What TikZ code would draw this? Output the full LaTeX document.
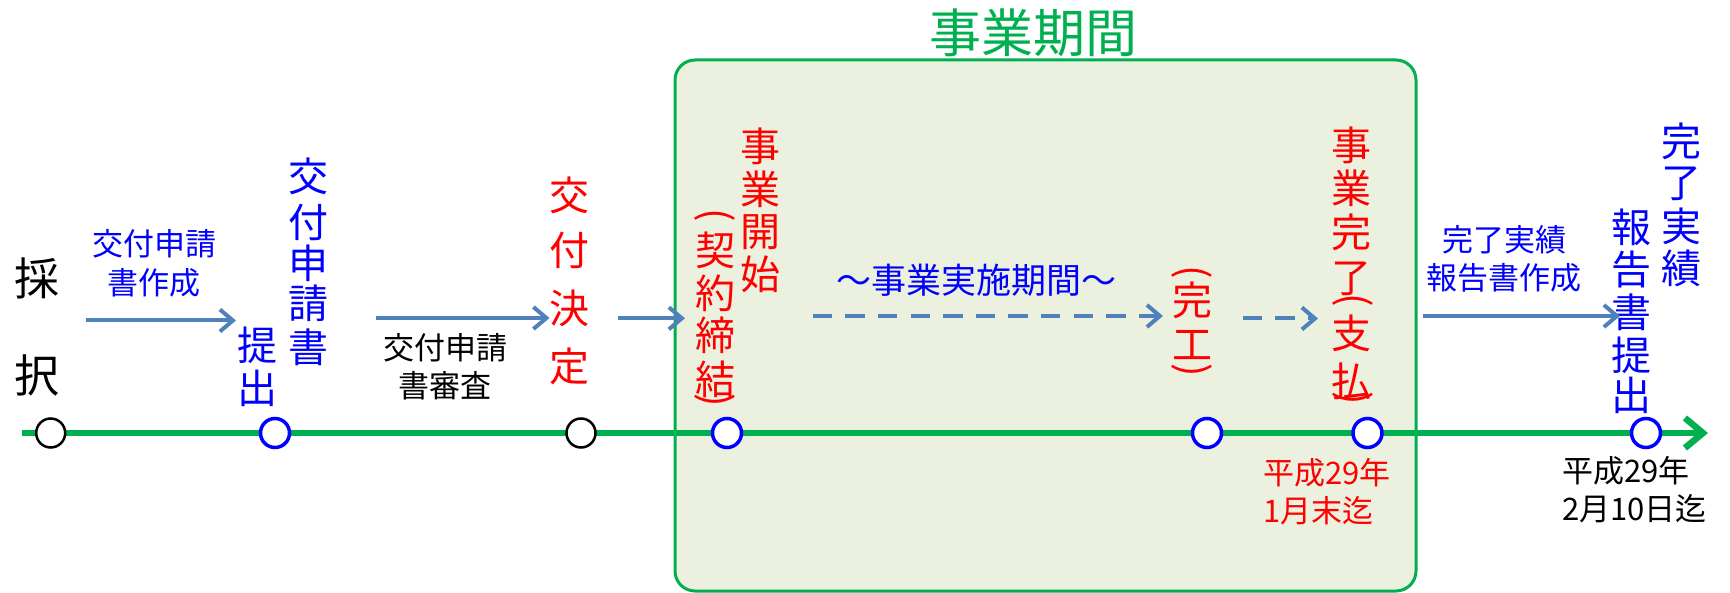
\documentclass[tikz,border=0pt]{standalone}
\usepackage{fontspec}
\setmainfont{Noto Sans CJK JP}
\usetikzlibrary{arrows.meta}
\definecolor{tlgreen}{HTML}{00B050}
\definecolor{arrblue}{HTML}{4F81BD}
\definecolor{boxfill}{HTML}{EBF1DE}
\definecolor{txtblue}{HTML}{0000FF}
\definecolor{txtred}{HTML}{FF0000}
\newcommand\vcolumn[4]{%
  \foreach \yy/\cc [count=\i] in {#4} {\node[ch, text=#3] (#1-\i) at (#2,\yy) {\cc};}%
}
\begin{document}
\begin{tikzpicture}[x=1pt,y=-1pt,
  ch/.style={inner sep=0pt, outer sep=0pt, font=\fontsize{40}{40}\selectfont, anchor=center},
  vparen/.style={ch, rotate=-90, text=txtred},
  lbl/.style={inner sep=0pt, outer sep=0pt, align=center, font=\fontsize{31}{38.5}\selectfont},
  datelbl/.style={inner sep=0pt, outer sep=0pt, align=left, anchor=west, font=\fontsize{31}{38}\selectfont},
  flow/.style={arrblue, line width=4pt, -{Straight Barb[length=13pt,width=22pt]}},
  dashflow/.style={flow, dash pattern=on 19.3pt off 13.3pt},
  milestone/.style={circle, draw, fill=white, minimum size=29pt, inner sep=0pt, line width=2.5pt},
  bluestone/.style={milestone, draw=txtblue, line width=3.5pt}
]
\useasboundingbox (0,0) rectangle (1730,593);

% period box
\node[draw=tlgreen, fill=boxfill, line width=3pt, rounded corners=20pt,
      minimum width=741pt, minimum height=531pt, inner sep=0pt] (period) at (1045.5,325.5) {};
\node[inner sep=0pt, text=tlgreen, font=\fontsize{52}{52}\selectfont] (title) at (1033,33.3) {事業期間};

% timeline
\coordinate (tls) at (21.7,433);
\coordinate (tle) at (1708,433);
\draw[tlgreen, line width=6.5pt, -{Straight Barb[length=18pt,width=30pt]}] (tls) -- (tle);

% milestones
\node[milestone] (m1) at (50.7,433) {};
\node[bluestone] (m2) at (275,433) {};
\node[milestone] (m3) at (581,433) {};
\node[bluestone] (m4) at (727,433) {};
\node[bluestone] (m5) at (1207,433) {};
\node[bluestone] (m6) at (1367.5,433) {};
\node[bluestone] (m7) at (1646,433) {};

% vertical texts
\node[ch, font=\fontsize{45}{45}\selectfont] (sai) at (36.7,278.3) {採};
\node[ch, font=\fontsize{45}{45}\selectfont] (taku) at (36.7,375) {択};
\vcolumn{shinsei}{308.3}{txtblue}{176/交,222.7/付,263.3/申,303.3/請,347.3/書}
\vcolumn{teishutsu}{257.3}{txtblue}{345/提,388.3/出}
\vcolumn{kettei}{569.3}{txtred}{195.7/交,250.7/付,308.3/決,366/定}
\vcolumn{kaishi}{760.7}{txtred}{146.7/事,189/業,231.7/開,274.3/始}
\node[vparen] (keiyaku-o) at (715,215) {(};
\vcolumn{keiyaku}{715}{txtred}{250/契,293.3/約,335.7/締,379/結}
\node[vparen] (keiyaku-c) at (715,400.7) {)};
\node[vparen] (kanko-o) at (1192.3,272.7) {(};
\vcolumn{kanko}{1192.3}{txtred}{300/完,345/工}
\node[vparen] (kanko-c) at (1192.3,370.7) {)};
\vcolumn{kanryo}{1351.7}{txtred}{145/事,188.3/業,232.3/完,278.3/了}
\node[vparen] (shiharai-o) at (1353,300) {(};
\vcolumn{shiharai}{1351.7}{txtred}{333.3/支,381.7/払}
\node[vparen] (shiharai-c) at (1353,398.3) {)};
\vcolumn{jisseki}{1681.7}{txtblue}{141.7/完,183.3/了,226/実,268.3/績}
\vcolumn{hokoku}{1631.7}{txtblue}{227.3/報,269.3/告,312.3/書,355/提,395.7/出}

% horizontal labels
\node[lbl, text=txtblue] (prep) at (154,263.3) {交付申請\\書作成};
\node[lbl] (review) at (445,366.7) {交付申請\\書審査};
\node[lbl, text=txtblue] (report) at (1504,259) {完了実績\\報告書作成};
\node[inner sep=0pt, text=txtblue, font=\fontsize{35}{35}\selectfont] (impl) at (976,280) {～事業実施期間～};
\node[datelbl, text=txtred] (date1) at (1263,491.7) {平成29年\\1月末迄};
\node[datelbl] (date2) at (1562,489.2) {平成29年\\2月10日迄};

% flow arrows
\coordinate (a1s) at (86,320.5);   \coordinate (a1e) at (236,320.5);
\coordinate (a2s) at (376,318);    \coordinate (a2e) at (549.5,318);
\coordinate (a3s) at (617.7,318.3);\coordinate (a3e) at (685,318.3);
\coordinate (a4s) at (1423,316);   \coordinate (a4e) at (1620,316);
\coordinate (d1s) at (812.8,316);  \coordinate (d1e) at (1163,316);
\coordinate (d2s) at (1242.8,318.5);\coordinate (d2e) at (1318,318.5);
\draw[flow] (a1s) -- (a1e);
\draw[flow] (a2s) -- (a2e);
\draw[flow] (a3s) -- (a3e);
\draw[flow] (a4s) -- (a4e);
\draw[dashflow] (d1s) -- (d1e);
\draw[dashflow] (d2s) -- (d2e);
\end{tikzpicture}
\end{document}
